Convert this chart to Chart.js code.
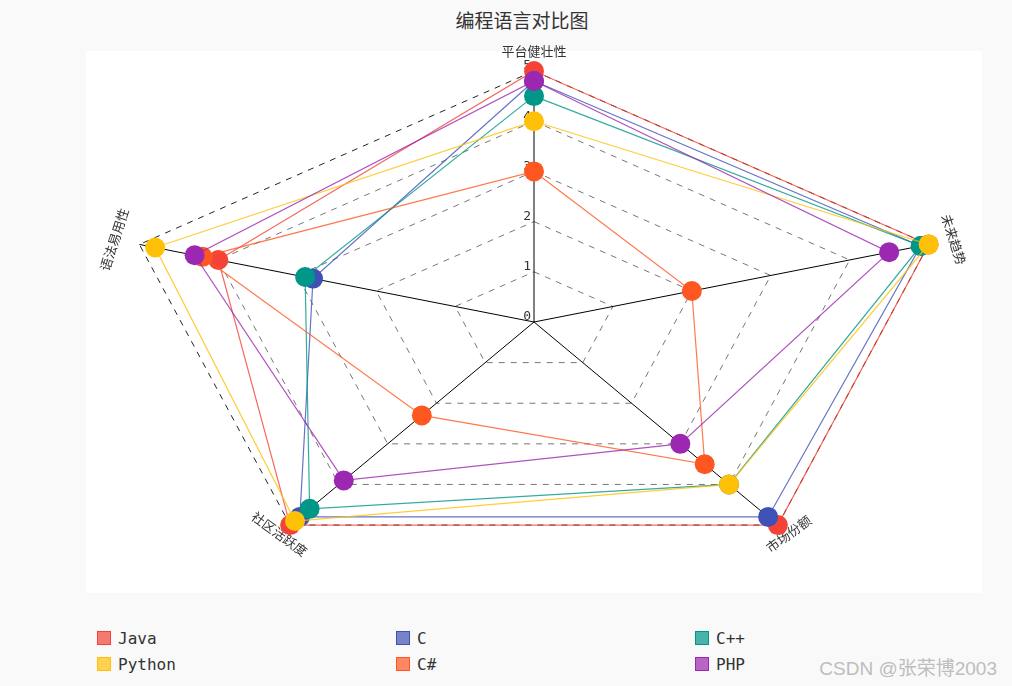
<!DOCTYPE html>
<html>
<head>
<meta charset="utf-8">
<script src="https://cdn.jsdelivr.net/npm/chart.js@4.4.0/dist/chart.umd.min.js"></script>
<style>
  body { margin: 0; width: 1012px; height: 686px; background: #f9f9f9; position: relative; overflow: hidden; font-family: "Noto Sans CJK SC", "Noto Sans", sans-serif; }
  #title { position: absolute; left: 0; width: 1044px; top: 6px; text-align: center; font-size: 19px; color: #333; }
  #box { position: absolute; left: 86px; top: 51px; width: 896px; height: 542px; background: #fff; }
  #radar { position: absolute; left: 86px; top: 31px; }
  #legend { position: absolute; left: 97px; top: 628px; width: 897px; display: grid; grid-template-columns: 299px 299px 299px; row-gap: 6px; }
  .item { display: flex; align-items: center; height: 20px; font-family: "DejaVu Sans Mono", monospace; font-size: 16px; color: #333; }
  .sw { width: 12px; height: 12px; border: 1.5px solid; margin-right: 7px; }
  #mark { position: absolute; right: 15px; top: 653px; font-size: 19px; color: #bdbdbd; font-family: "Liberation Sans", "Noto Sans CJK SC", sans-serif; }
</style>
</head>
<body>
<div id="title">编程语言对比图</div>
<div id="box"></div>
<canvas id="radar" width="896" height="582"></canvas>
<div id="legend"></div>
<div id="mark">CSDN @张荣博2003</div>
<script>
const axes = ["平台健壮性", "未来趋势", "市场份额", "社区活跃度", "语法易用性"];
const tickValues = [0, 1, 2, 3, 4, 5];

const languages = ["Java", "C", "C++", "Python", "C#", "PHP"];
const colors = ["#F44336", "#3F51B5", "#009688", "#FFC107", "#FF5722", "#9C27B0"];

const javaScores = [5, 5, 5, 5, 4];
const cScores = [4.8, 4.9, 4.8, 4.8, 2.8];
const cppScores = [4.5, 4.9, 4.0, 4.6, 2.9];
const pythonScores = [4, 5, 4, 4.9, 4.8];
const csharpScores = [3, 2, 3.5, 2.3, 4.2];
const phpScores = [4.8, 4.5, 3, 3.9, 4.3];

const allScores = [javaScores, cScores, cppScores, pythonScores, csharpScores, phpScores];

// the radar in the picture is wider than it is tall
const STRETCH = 1.653;

class StretchedRadial extends Chart.RadialLinearScale {
  getPointPosition(index, distance, additionalAngle) {
    const p = super.getPointPosition(index, distance, additionalAngle || 0);
    return { x: this.xCenter + (p.x - this.xCenter) * STRETCH, y: p.y, angle: p.angle };
  }
}
StretchedRadial.id = "stretchedRadial";
Chart.register(StretchedRadial);

const labelGap = [20, 16, 11, 11, 16];

const axisText = {
  id: "axisText",
  beforeDatasetsDraw(chart) {
    const s = chart.scales.r;
    const ctx = chart.ctx;
    ctx.save();
    ctx.fillStyle = "#333";
    ctx.font = '13px "DejaVu Sans Mono", monospace';
    ctx.textAlign = "right";
    ctx.textBaseline = "middle";
    tickValues.forEach((v) => {
      const d = s.getDistanceFromCenterForValue(v);
      ctx.fillText(String(v), s.xCenter - 3, s.yCenter - d - 5);
    });

    ctx.font = '13px "Noto Sans CJK SC", sans-serif';
    ctx.textAlign = "center";
    axes.forEach((name, i) => {
      const p = s.getPointPosition(i, s.drawingArea + labelGap[i]);
      let rot = s.getIndexAngle(i);
      if (rot > Math.PI / 2 && rot < Math.PI * 1.5) rot -= Math.PI;
      ctx.save();
      ctx.translate(p.x, p.y);
      ctx.rotate(rot);
      ctx.fillText(name, 0, 0);
      ctx.restore();
    });
    ctx.restore();
  },
};

const datasets = languages.map((name, i) => ({
  label: name,
  data: allScores[i],
  borderColor: colors[i] + "cc",
  backgroundColor: colors[i],
  pointBackgroundColor: colors[i],
  pointBorderColor: colors[i],
  borderWidth: 1.2,
  pointRadius: 10,
  pointBorderWidth: 0,
  fill: false,
  order: languages.length - i,
}));

new Chart(document.getElementById("radar"), {
  type: "radar",
  data: { labels: axes, datasets: datasets },
  options: {
    responsive: false,
    animation: false,
    layout: { padding: { top: 40, bottom: 40, left: 0, right: 0 } },
    elements: { line: { tension: 0 } },
    scales: {
      r: {
        type: "stretchedRadial",
        min: 0,
        max: 5,
        ticks: { stepSize: 1, display: false },
        pointLabels: { display: false },
        angleLines: { color: "#000", lineWidth: 1 },
        grid: {
          color: (c) => (c.tick && c.tick.value === 5 ? "#222" : "#777"),
          lineWidth: 1,
        },
        border: { dash: [6, 6] },
      },
    },
    plugins: {
      legend: { display: false },
      tooltip: { enabled: false },
    },
  },
  plugins: [axisText],
});

const legendDiv = document.getElementById("legend");
languages.forEach((name, i) => {
  const item = document.createElement("div");
  item.className = "item";
  const sw = document.createElement("span");
  sw.className = "sw";
  sw.style.borderColor = colors[i];
  sw.style.background = colors[i] + "b3";
  item.appendChild(sw);
  item.appendChild(document.createTextNode(name));
  legendDiv.appendChild(item);
});
</script>
</body>
</html>
